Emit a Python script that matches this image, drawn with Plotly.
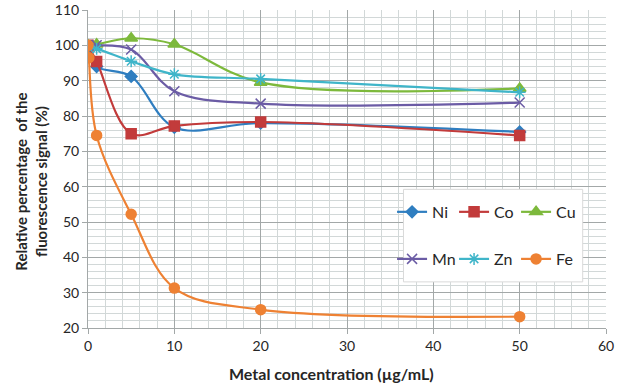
import plotly.graph_objects as go

# Data
conc = [0, 1, 5, 10, 20, 50]
conc_fe = [0, 0.1, 1, 5, 10, 20, 50]
ni = [99, 94, 91.2, 76.8, 78, 75.5]
co = [100, 95.4, 75, 77.2, 78.3, 74.5]
cu = [100, 100.3, 102, 100.3, 89.5, 87.8]
mn = [100, 100, 98.8, 87, 83.5, 83.8]
zn = [99.5, 99, 95.5, 91.8, 90.5, 86.7]
fe = [100, 96.5, 74.5, 52.2, 31.3, 25.2, 23.2]

x_ticks = [0, 10, 20, 30, 40, 50, 60]
y_ticks = [20, 30, 40, 50, 60, 70, 80, 90, 100, 110]

FONT = "Lato, 'Open Sans', sans-serif"

series = [
    ("Ni", conc, ni, "#2F7EC0", "diamond", 9, "legend"),
    ("Co", conc, co, "#C23B3B", "square", 10, "legend"),
    ("Cu", conc, cu, "#7DB93C", "triangle-up", 11, "legend"),
    ("Mn", conc, mn, "#6B5CA5", "x-thin-open", 10, "legend2"),
    ("Zn", conc, zn, "#3FB5C9", "asterisk-open", 10, "legend2"),
    ("Fe", conc_fe, fe, "#EE8133", "circle", 10, "legend2"),
]

fig = go.Figure()
for name, xs, ys, col, sym, size, leg in series:
    fig.add_trace(go.Scatter(
        x=xs, y=ys, name=name, mode="lines+markers",
        line=dict(color=col, width=2.2, shape="spline", smoothing=1.0),
        marker=dict(symbol=sym, size=size, color=col,
                    line=dict(color=col, width=1.5)),
        legend=leg,
    ))

grid_major = "#a3a8a8"
grid_minor = "#d2d8d8"

leg_common = dict(orientation="h", xanchor="left", yanchor="middle",
                  bgcolor="rgba(0,0,0,0)", entrywidth=17,
                  font=dict(size=16, family=FONT), itemwidth=30)

fig.update_layout(
    width=617, height=385,
    margin=dict(l=88, r=11, t=10, b=57, autoexpand=False),
    paper_bgcolor="white", plot_bgcolor="white",
    font=dict(family=FONT, size=14, color="#262626"),
    showlegend=True,
    legend=dict(x=0.587, y=0.365, **leg_common),
    legend2=dict(x=0.587, y=0.217, **leg_common),
    xaxis=dict(range=[0, 60], tickvals=x_ticks, showgrid=True, gridcolor=grid_major,
               gridwidth=1, zeroline=False, showline=True, linecolor=grid_major,
               ticks="outside", ticklen=5, tickcolor=grid_major,
               minor=dict(dtick=2, showgrid=True, gridcolor=grid_minor, gridwidth=1),
               tickfont=dict(size=14)),
    yaxis=dict(range=[20, 110], tickvals=y_ticks, showgrid=True, gridcolor=grid_major,
               gridwidth=1, zeroline=False, showline=True, linecolor=grid_major,
               ticks="outside", ticklen=5, tickcolor=grid_major,
               minor=dict(dtick=2, showgrid=True, gridcolor=grid_minor, gridwidth=1),
               tickfont=dict(size=14)),
    shapes=[dict(type="rect", xref="paper", yref="paper", x0=0.609, x1=0.955,
                 y0=0.145, y1=0.436, fillcolor="white",
                 line=dict(color="#d9d9d9", width=1), layer="above")],
    annotations=[
        dict(text="Metal concentration (µg/mL)", xref="paper", yref="paper",
             x=0.47, y=0, yshift=-45, xanchor="center", yanchor="middle",
             showarrow=False, font=dict(size=16, family=FONT, color="#262626", weight="bold")),
        dict(text="Relative percentage  of the<br>fluorescence signal (%)", xref="paper",
             yref="paper", x=0, xshift=-57, y=0.46, xanchor="center", yanchor="middle",
             textangle=-90, showarrow=False,
             font=dict(size=15, family=FONT, color="#262626", weight="bold")),
    ],
)

fig.write_html("out.html")
